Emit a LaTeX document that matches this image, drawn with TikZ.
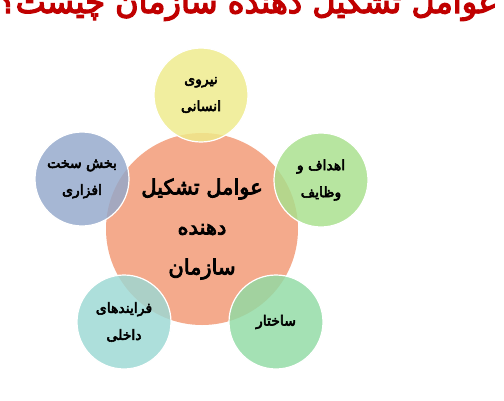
\documentclass[tikz,border=0pt]{standalone}
\usepackage{fontspec}
\newfontfamily\farsi[Script=Arabic, FakeBold=4]{DejaVu Sans}
\TeXXeTstate=1
\usepackage{tikz}

\definecolor{salmon}{HTML}{F4AA8C}
\definecolor{paleyellow}{HTML}{EFEB8A}
\definecolor{leafgreen}{HTML}{A8E08C}
\definecolor{greyblue}{HTML}{93A8CB}
\definecolor{paleteal}{HTML}{9CD9D4}
\definecolor{mintgreen}{HTML}{90DBA4}
\definecolor{titlered}{HTML}{C00000}

\tikzset{
  hub/.style={circle, fill=salmon, minimum size=192pt, inner sep=0pt},
  part/.style={circle, draw=white, line width=1.2pt, minimum size=94pt,
    inner sep=0pt, fill opacity=0.82, text opacity=1},
  partlabel/.style={align=center, font=\farsi\fontsize{14}{27}\selectfont},
  hublabel/.style={align=center, font=\farsi\fontsize{21}{40}\selectfont}
}

\begin{document}
\begin{tikzpicture}[x=1pt,y=-1pt]
    \useasboundingbox (0,0) rectangle (504,400);
    \clip (0,0) rectangle (504,400);
    \fill[white] (0,0) rectangle (504,400);

    % title, cut at the top edge
    \node[anchor=base, text=titlered, font=\farsi\fontsize{32}{32}\selectfont]
      (title) at (248,13) {\beginR عوامل تشکیل دهنده سازمان چیست؟\endR};

    \node[hub] (hub) at (202,229) {};

    \node[part, fill=paleyellow] (niru) at (201,95) {};
    \node[part, fill=leafgreen] (ahdaf) at (321,180) {};
    \node[part, fill=mintgreen] (sakhtar) at (276,322) {};
    \node[part, fill=paleteal] (farayand) at (124,322) {};
    \node[part, fill=greyblue] (afzar) at (82,179) {};

    \node[hublabel] at (hub) {\beginR عوامل تشکیل\endR\\\beginR دهنده\endR\\\beginR سازمان\endR};

    \node[partlabel] at (niru) {\beginR نیروی\endR\\\beginR انسانی\endR};
    \node[partlabel] at (ahdaf) {\beginR اهداف و\endR\\\beginR وظایف\endR};
    \node[partlabel] at (sakhtar) {\beginR ساختار\endR};
    \node[partlabel] at (farayand) {\beginR فرایندهای\endR\\\beginR داخلی\endR};
    \node[partlabel] at (afzar) {\beginR بخش سخت\endR\\\beginR افزاری\endR};
\end{tikzpicture}
\end{document}
